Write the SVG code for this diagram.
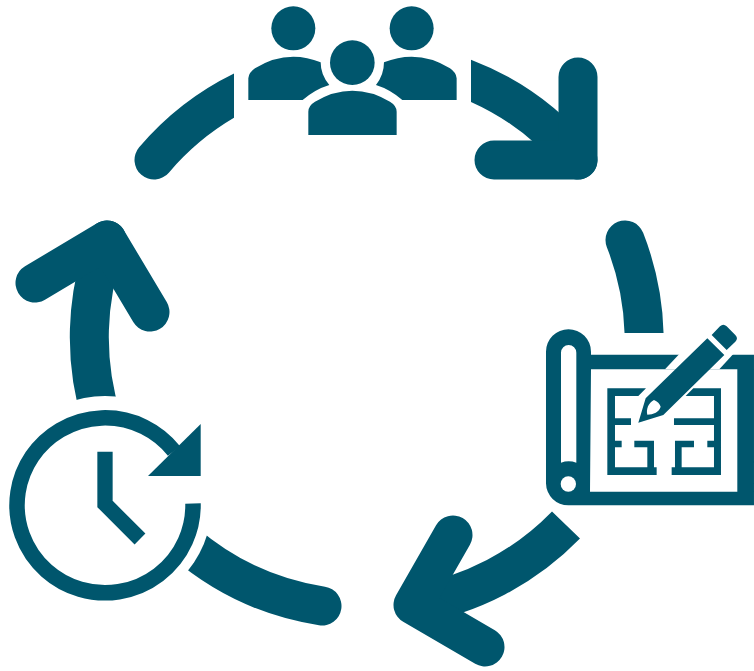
<svg xmlns="http://www.w3.org/2000/svg" width="754" height="671" viewBox="0 0 754 671">
<style>
.c{fill:none;stroke:#00566D;stroke-width:39;stroke-linecap:round;stroke-linejoin:round}
.b{stroke-linecap:butt}
.f{fill:#00566D}
.w{fill:#fff}
.l{fill:none;stroke:#00566D}
</style>
<defs>
<clipPath id="cl"><rect x="0" y="0" width="234" height="300"/></clipPath>
<clipPath id="cr"><rect x="471" y="0" width="283" height="300"/></clipPath>
<clipPath id="cb"><rect x="560" y="180" width="194" height="153"/></clipPath>
</defs>
<rect width="754" height="671" fill="#fff"/>
<g id="connectors">
<path class="c" clip-path="url(#cl)" d="M154 160A276 276 0 0 1 256 85"/>
<path class="c" clip-path="url(#cr)" d="M450 73A276 276 0 0 1 578 160"/>
<path class="c" d="M578 77V160H494"/>
<path class="c" clip-path="url(#cb)" d="M625 240A276 276 0 0 1 644 350"/>
<path class="c b" d="M566 525A276 276 0 0 1 413 605"/>
<path class="c" d="M453 535L413 605L485 647"/>
<path class="c" d="M185 543A276 276 0 0 0 322 606"/>
<path class="c" d="M102 420A276 276 0 0 1 107 240"/>
<path class="c" d="M35 283L107 240L150 312"/>
</g>
<g id="node-team" transform="translate(230 0) scale(.3333)">
<circle class="f" cx="190" cy="85" r="66"/>
<circle class="f" cx="545" cy="85" r="66"/>
<circle class="f" cx="367" cy="188" r="67"/>
<path class="f" d="M55 300V235Q56 218 75 205Q130 170 190 170Q232 170 272 187Q272 225 298 255Q255 268 218 300Z"/>
<path class="f" d="M680 300V235Q679 218 660 205Q605 170 545 170Q503 170 462 187Q462 225 438 255Q480 268 517 300Z"/>
<path class="f" d="M235 405V335Q235 317 255 305Q310 272 367 272Q425 272 480 305Q500 317 500 335V405Z"/>
</g>
<g id="node-plan" transform="translate(530 310) scale(.3333)">
<path class="f" fill-rule="evenodd" d="M48 125A67 67 0 0 1 183 125V134H672V586H115A67 67 0 0 1 48 520ZM183 178L180 545H622V178ZM93 128V458Q116 450 139 458V128A23 23 0 0 0 93 128Z"/>
<circle class="w" cx="115" cy="522" r="23"/>
<path class="w" d="M450 130H612L568 178H405Z"/>
<path class="f" d="M232 235H348L325 258H255V325H303V345H255V392H275V412H255V472H352V412H313V392H372V472H380V495H232Z"/>
<path class="f" d="M490 235H573V495H425V472H435V392H492V412H455V472H552V412H532V392H552V345H432V325H552V258H467Z"/>
<path class="f" fill-rule="evenodd" d="M532 85L583 135L400 315L325 338L347 265ZM372 270C355 278 348 298 352 314C370 314 388 306 392 290C390 282 382 274 372 270Z"/>
<path class="f" d="M545 75L570 49Q580 39 590 49L616 75Q626 85 616 95L590 120Z"/>
</g>
<g id="node-clock">
<circle class="w" cx="105" cy="503" r="107"/>
<path class="l" stroke-width="15.500" d="M193 503.500A88 87.500 0 1 1 174 451"/>
<path class="f" d="M200.700 424V476H148Z"/>
<path class="l" stroke-width="15.300" d="M105 451.700V504L140 539"/>
</g>
</svg>
